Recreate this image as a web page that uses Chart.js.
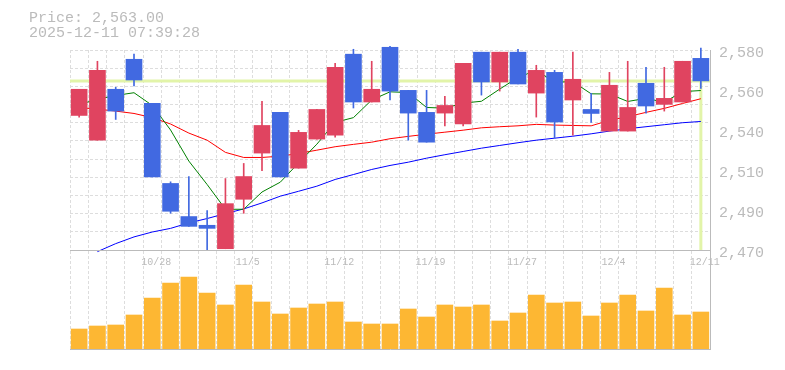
<!DOCTYPE html>
<html>
<head>
<meta charset="utf-8">
<script src="https://cdn.jsdelivr.net/npm/chart.js@4.4.1/dist/chart.umd.min.js"></script>
<style>
  html, body { margin: 0; padding: 0; background: #fff; }
  #wrap { position: relative; width: 785px; height: 370px; }
  #wrap canvas { position: absolute; left: 0; top: 0; }
  #info {
    position: absolute; left: 29px; top: 11px;
    font: 15px/15px 'Liberation Mono', monospace; color: #bbb;
  }
</style>
</head>
<body>
<div id="wrap">
  <canvas id="priceChart" width="785" height="370"></canvas>
  <canvas id="volumeChart" width="785" height="370"></canvas>
  <div id="info">Price: 2,563.00<br>2025-12-11 07:39:28</div>
</div>
<script>
const dates = ['10/22', '10/23', '10/24', '10/27', '10/28', '10/29', '10/30', '10/31', '11/4', '11/5',
  '11/6', '11/7', '11/10', '11/11', '11/12', '11/13', '11/14', '11/17', '11/18', '11/19',
  '11/20', '11/21', '11/25', '11/26', '11/27', '11/28', '12/1', '12/2', '12/3', '12/4',
  '12/5', '12/8', '12/9', '12/10', '12/11'];
const axisDates = ['10/28', '11/5', '11/12', '11/19', '11/27', '12/4', '12/11'];

const open = [2544.0, 2530.4, 2558.4, 2574.9, 2550.6, 2506.6, 2488.4, 2483.6, 2470.7, 2497.9,
  2523.3, 2545.7, 2515.0, 2531.0, 2533.2, 2577.7, 2551.4, 2581.5, 2557.8, 2545.7,
  2545.3, 2539.3, 2578.8, 2562.4, 2578.8, 2556.3, 2567.7, 2552.5, 2547.3, 2535.4,
  2535.4, 2561.7, 2550.1, 2551.4, 2575.4];
const high = [2558.4, 2573.8, 2559.5, 2577.7, 2550.6, 2507.5, 2510.4, 2491.7, 2509.3, 2517.6,
  2551.7, 2545.7, 2535.8, 2547.3, 2572.7, 2580.4, 2573.8, 2582.0, 2557.8, 2557.8,
  2554.5, 2572.7, 2578.8, 2578.8, 2580.4, 2571.6, 2568.8, 2578.8, 2556.2, 2567.7,
  2573.8, 2570.5, 2570.5, 2573.8, 2581.0];
const low = [2543.1, 2530.4, 2541.8, 2560.2, 2510.2, 2490.2, 2483.0, 2470.0, 2470.7, 2490.2,
  2513.7, 2510.2, 2515.0, 2531.0, 2532.1, 2548.1, 2551.4, 2552.5, 2530.4, 2529.3,
  2538.2, 2538.2, 2555.2, 2557.4, 2561.3, 2543.1, 2531.5, 2533.2, 2540.2, 2535.4,
  2535.4, 2545.3, 2546.4, 2551.4, 2558.9];
const close = [2558.4, 2568.8, 2546.4, 2563.5, 2510.2, 2491.3, 2483.0, 2481.9, 2495.5, 2510.4,
  2538.5, 2510.2, 2534.7, 2547.3, 2570.5, 2551.4, 2558.4, 2557.4, 2545.3, 2529.3,
  2549.5, 2572.7, 2562.4, 2578.8, 2561.3, 2568.8, 2540.4, 2563.9, 2545.1, 2560.6,
  2548.4, 2549.2, 2553.4, 2573.8, 2563.0];

// moving averages
const ma5 = [2550.0, 2552.9, 2555.0, 2556.5, 2549.5, 2536.0, 2518.9, 2506.0, 2492.4, 2492.4,
  2501.9, 2507.3, 2517.9, 2528.2, 2540.2, 2542.8, 2552.5, 2557.0, 2556.6, 2548.4,
  2548.0, 2550.8, 2551.8, 2558.5, 2564.9, 2568.8, 2562.3, 2562.6, 2555.9, 2555.8,
  2551.7, 2553.4, 2551.3, 2557.1, 2557.7];
const ma25 = [2548.3, 2547.5, 2546.4, 2545.1, 2542.8, 2539.3, 2534.3, 2530.4, 2523.7, 2520.9,
  2520.9, 2521.6, 2523.1, 2524.9, 2526.8, 2528.1, 2529.3, 2531.2, 2532.5, 2533.7,
  2534.8, 2535.9, 2537.2, 2537.8, 2538.3, 2539.1, 2538.7, 2538.5, 2538.3, 2541.3,
  2543.3, 2545.7, 2547.9, 2550.6, 2553.2];
const ma75 = [null, 2469.1, 2473.5, 2477.2, 2479.9, 2481.9, 2484.9, 2487.3, 2490.0, 2492.6,
  2495.9, 2499.6, 2502.3, 2505.1, 2508.8, 2511.5, 2514.3, 2516.5, 2518.3, 2520.5,
  2522.4, 2524.2, 2526.0, 2527.5, 2529.0, 2530.4, 2531.5, 2532.6, 2533.9, 2535.4,
  2536.7, 2537.8, 2538.9, 2540.0, 2540.7];

// volume, thousand shares
const volumes = [20, 23, 24, 34, 51, 66, 72, 56, 44, 64,
  47, 35, 41, 45, 47, 27, 25, 25, 40, 32,
  44, 42, 44, 28, 36, 54, 46, 47, 33, 46,
  54, 38, 61, 34, 37];

const lastPrice = 2563;

const FONT = "'Liberation Mono', monospace";
const TEXT = '#bbb';
const GRID = '#ddd';
const AXIS = '#bbb';
const UP = '#e04460';
const DOWN = '#4169e1';
const MARK = '#e2f4a9';

Chart.defaults.font.family = FONT;
Chart.defaults.animation = false;

const candleColors = dates.map((d, i) => close[i] >= open[i] ? UP : DOWN);
const bodies = dates.map((d, i) => [open[i], close[i]]);
const wicks = dates.map((d, i) => [low[i], high[i]]);

const crosshair = {
  id: 'crosshair',
  beforeDatasetsDraw(chart) {
    const { ctx, chartArea, scales } = chart;
    const y = scales.y.getPixelForValue(lastPrice);
    const x = scales.x.getPixelForValue(dates.length - 1);
    ctx.save();
    ctx.strokeStyle = MARK;
    ctx.lineWidth = 3;
    ctx.beginPath();
    ctx.moveTo(chartArea.left, y);
    ctx.lineTo(chartArea.right, y);
    ctx.moveTo(x, y);
    ctx.lineTo(x, chartArea.bottom);
    ctx.stroke();
    ctx.restore();
  }
};

function maLine(data, color) {
  return {
    type: 'line',
    data: data,
    borderColor: color,
    borderWidth: 1,
    pointRadius: 0,
    tension: 0,
    order: 2,
    clip: false
  };
}

new Chart(document.getElementById('priceChart'), {
  type: 'bar',
  data: {
    labels: dates,
    datasets: [
      {
        data: bodies,
        backgroundColor: candleColors,
        barThickness: 16,
        borderWidth: 0,
        borderSkipped: false,
        grouped: false,
        order: 0,
        clip: false
      },
      {
        data: wicks,
        backgroundColor: candleColors,
        barThickness: 1,
        borderWidth: 0,
        borderSkipped: false,
        grouped: false,
        order: 1,
        clip: false
      },
      maLine(ma5, '#008000'),
      maLine(ma25, '#ff0000'),
      maLine(ma75, '#0000ff')
    ]
  },
  options: {
    responsive: false,
    layout: { padding: { top: 50, left: 70, bottom: 120, right: 0 } },
    plugins: { legend: { display: false }, tooltip: { enabled: false } },
    scales: {
      x: {
        offset: true,
        grid: { offset: true, color: GRID, drawTicks: false },
        border: { display: true, color: AXIS, dash: [3, 2] },
        ticks: { display: false },
        afterFit: s => { s.height = 0; }
      },
      y: {
        position: 'right',
        min: 2470,
        max: 2580,
        ticks: { stepSize: 10, display: false },
        grid: { color: GRID, drawTicks: false },
        border: { display: false, dash: [3, 2] },
        afterFit: s => { s.width = 0; }
      },
      yLabel: {
        position: 'right',
        min: 2470,
        max: 2580,
        ticks: {
          stepSize: 22,
          color: TEXT,
          font: { family: FONT, size: 15 },
          padding: 9,
          labelOffset: 3,
          callback: v => (Math.round(v / 10) * 10).toLocaleString('en-US')
        },
        grid: { display: false, drawTicks: false },
        border: { display: true, color: AXIS },
        afterFit: s => { s.width = 75; }
      }
    }
  },
  plugins: [crosshair]
});

new Chart(document.getElementById('volumeChart'), {
  type: 'bar',
  data: {
    labels: dates,
    datasets: [{
      data: volumes,
      backgroundColor: '#fdb733',
      barThickness: 16,
      borderWidth: 0
    }]
  },
  options: {
    responsive: false,
    layout: { padding: { top: 250, left: 70, bottom: 21, right: 0 } },
    plugins: { legend: { display: false }, tooltip: { enabled: false } },
    scales: {
      x: {
        position: 'top',
        offset: true,
        grid: { offset: true, color: GRID, drawTicks: false },
        border: { display: true, color: AXIS, dash: [3, 2] },
        ticks: {
          mirror: true,
          padding: 6,
          labelOffset: 4,
          autoSkip: false,
          maxRotation: 0,
          minRotation: 0,
          color: TEXT,
          font: { family: FONT, size: 10 },
          callback: (v, i) => axisDates.includes(dates[i]) ? dates[i] : ''
        },
        afterFit: s => { s.height = 0; }
      },
      xBottom: {
        type: 'category',
        position: 'bottom',
        grid: { display: false, drawTicks: false },
        ticks: { display: false },
        border: { display: true, color: AXIS },
        afterFit: s => { s.height = 0; }
      },
      y: {
        position: 'right',
        min: 0,
        max: 99,
        grid: { display: false, drawTicks: false },
        ticks: { display: false },
        border: { display: true, color: AXIS },
        afterFit: s => { s.width = 75; }
      }
    }
  }
});
</script>
</body>
</html>
